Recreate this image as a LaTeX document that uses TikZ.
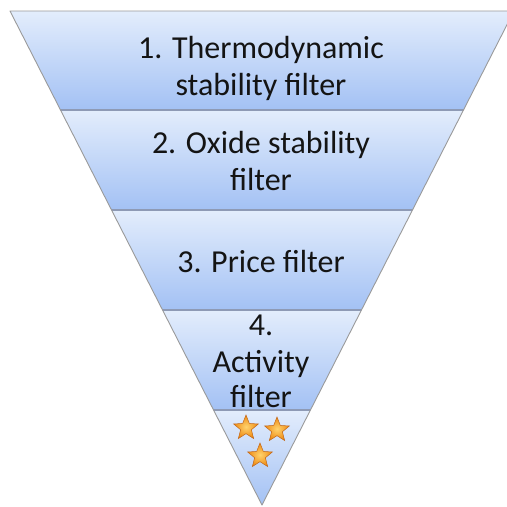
\documentclass[tikz,border=0pt]{standalone}
\usepackage{fontspec}
\setmainfont{Carlito}
\usetikzlibrary{shapes.geometric}
\definecolor{bandtop}{HTML}{E3EDFC}
\definecolor{bandbot}{HTML}{A3C1F4}
\definecolor{sepline}{HTML}{8E9AB5}
\definecolor{edgegray}{HTML}{9A9A9A}
\definecolor{starin}{HTML}{FFD36E}
\definecolor{starout}{HTML}{EE8A12}
\definecolor{starrim}{HTML}{C0661A}
\begin{document}
\begin{tikzpicture}[x=1pt,y=-1pt,
  stagetext/.style={font=\fontsize{32}{37}\selectfont, text=black!92, inner sep=0pt, anchor=base},
  award/.style={star, star points=5, star point ratio=2.3, minimum size=26pt, inner sep=0pt,
    draw=starrim, line width=0.5pt, shading=radial, inner color=starin, outer color=starout}]
\useasboundingbox (0,0) rectangle (507,507);
% funnel bands, each shaded light to dark
\begin{scope}
  \clip (10,11) -- (514,11) -- (262,505) -- cycle;
  \foreach \a/\b in {11/110,110/210,210/310,310/410,410/506}
    \shade[top color=bandtop, bottom color=bandbot] (0,\a) rectangle (520,\b);
  \foreach \y in {110,210,310,410}
    \draw[sepline, line width=1.2pt] (0,\y) -- (520,\y);
\end{scope}
% funnel outline
\draw[edgegray, line width=0.9pt, line join=round] (10,11) -- (514,11) -- (262,505) -- cycle;
% stage labels
\node[stagetext] (t1a) at (261,58) {1. Thermodynamic};
\node[stagetext] (t1b) at (261,95) {stability filter};
\node[stagetext] (t2a) at (261,153) {2. Oxide stability};
\node[stagetext] (t2b) at (261,190) {filter};
\node[stagetext] (t3) at (261,272) {3. Price filter};
\node[stagetext] (t4a) at (261,335) {4.};
\node[stagetext] (t4b) at (261,372) {Activity};
\node[stagetext] (t4c) at (261,407) {filter};
% selected candidates
\node[award] (s1) at (246,428) {};
\node[award] (s2) at (277,430) {};
\node[award] (s3) at (260,456) {};
\end{tikzpicture}
\end{document}
